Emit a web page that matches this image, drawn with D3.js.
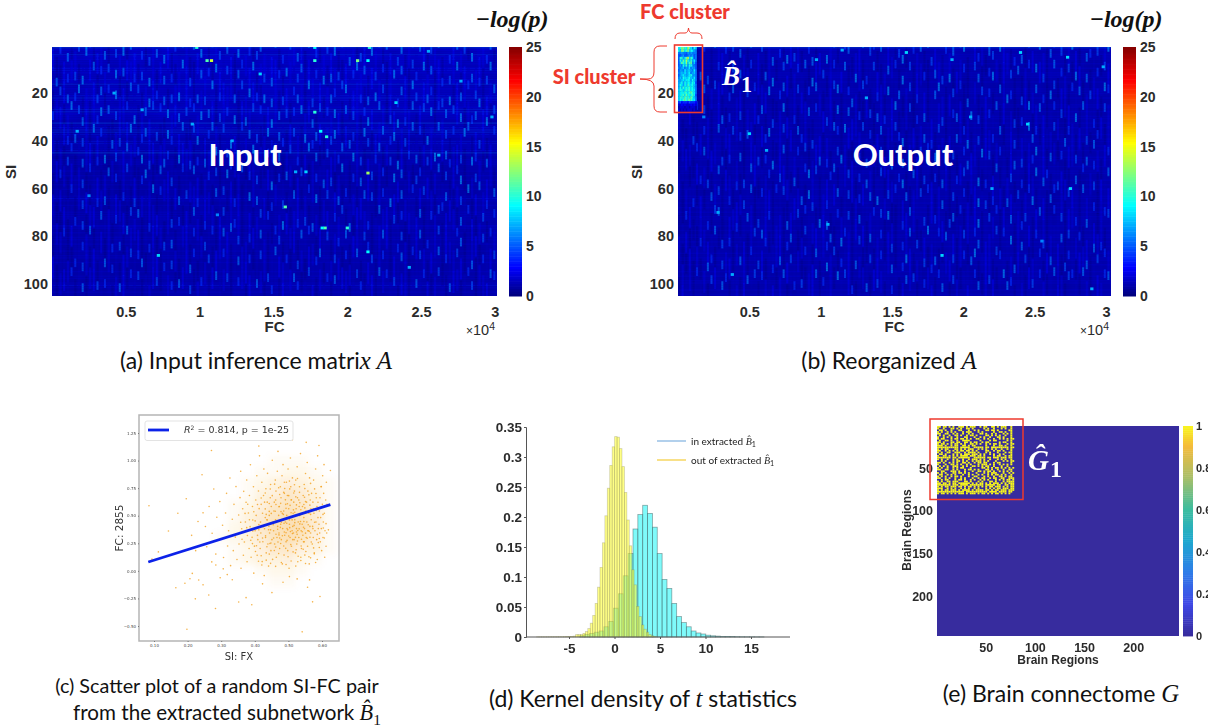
<!DOCTYPE html>
<html><head><meta charset="utf-8">
<script src="https://cdn.jsdelivr.net/npm/d3@7/dist/d3.min.js"></script>
<style>html,body{margin:0;padding:0;background:#fff;overflow:hidden}svg{display:block}</style>
</head><body><div id="c"></div>
<script>
// ---------- data ----------
const coarseInput = [
"3324232433423342432334243342342334233243",
"2332323423342334233424324234323423342332",
"2323232332323433233332432333423323323332",
"2223232323233232323333233233323233232323",
"2323322232323233223232323233232323323233",
"3323232323332323223323223233322323233232",
"1222212222222322212322223222232222322232",
"1212221221222122222122222221222212222222",
"1122122212122122212212212222122122121222",
"1212112212212212122112212122221221221222",
"1121212122121221212212122121212212212122",
"1212211212212122112221212212212122122122",
"1122121221122212212122121222122121222122",
"1212121212212221222122212122212221212222",
"1121212212122122212212221221222122122122",
"1212122121221212221221212222122121222122",
"1122121212212122212221212122212212221212",
"1212212122122122121222122212221212212222",
"1121212212212212221222122121222122122122",
"1212122121221221222122212212212221221212"];
const coarseOutput = [
"2222322223222232222232222322223222232223",
"2122221222322212222212223222122222322212",
"2212222122221232212222122212222122221222",
"1222212222122212222122222122212222122222",
"2212222212221222212221222212222122212222",
"2122212222122222122221222122221222212222",
"1222222122212222212221222212222122212222",
"2212212222122212222122222122212222122212",
"1222221222212222122212221222221222122222",
"2122212222221222122221222122212222212222",
"1222122212222122222122212222122212222122",
"2212222122212222122222122212222122212222",
"1222212221222221222212221222212222122212",
"2122222122212222122212222122221222122222",
"1222122222122212222122222122212221222212",
"2212221222212222212221222212222122221222",
"1222212222122212222122212222212222122212",
"2122222122212222122222122212222122212222",
"1222122212222122212222122221222122212222",
"2212221222122222122212222122212222212222"];
// short vertical streaks: twelve stacked bands of SI, one digit per narrow FC column
const streakBandsInput = [
"304160251740326015270631405261730415206371042516307124056213704152630714025370416205317240631570241630527014362507132460",
"160342507136042517063240517203614027350162407315206413702516340721560324170625031472603514027163054172603415270316240571",
"025361470213560417230615027341605271340625170432160527340716205314620751302641570324061725031462075136402517036241570326",
"413027156302471605324170263514072361504271630524170362514037261504172360514273061520473162053714260351704261537024613705",
"201340615207341062513720463150274136025713462051730426150273164035207146302571036421750326147025361407216350412760352014",
"132054016230417025136204715302641073250416237015426103752041360251403726015324610725031460251730416025371064235017420631",
"014203125041302614025130472016235104126302415017302614250137041620351024163502710426135024017361205413026150347012561320",
"203114025301426013241050213704120361502413206150243017261304215016302417025136041203615024173062140351201463025170312416",
"120301415023161204130526014231025140316204120351642013025140127302415062013142507031240162305140213601425031206143025014",
"012403114260130241506213014302516012304125140263015024316201450123061420315024160321540126301452013604125032146012305142",
"301120415203016241032514601230415201364012503142016234015201632401520314601253042160135024103162041520316041253016024135",
"102314016023514102630415012350124063150241036125014203162054103126401530214061320154013062415032016143025106320145012364"];
const streakBandsOutput = [
"306150241072340516207135026140735201460317250146023715406132057014260753104261570134206517320416053172064150273016415027",
"140230615014320516024130627015302416073150241360172041530261407150324016251703240156014720315060241735016042507316024153",
"013240160253014623051402370146012530416201357014620530142073160250413016720351406120534016274015302614075132041602513074",
"201304152013604125021346015027314012604135207016324015062413701250416031250146302715024160312504170263014250317062140352",
"120150342016023514062013470125031642051302164073012514036021547013026140520316247015032416013502176403125016420315064102",
"013204160321504126013250417036012415023614015720314061205316047120351406213050146320715024103615024713062140325106142034",
"201013425016032140516301240153206014725013460125304162015032147016205134062014350217041360125014032716401532016041250316",
"102140301625014032516014230415013260751024136015024316071250413602151430261050142037150412063150247013064120531062140213",
"014301214056013240162051340120631504120736014215036102415072014362015014230561402137015240316024510362014150324016130245",
"203010423160514021302516401230461025103124601742015306124035014261503721406130250146032150417026130415021360512403162401",
"120302016401523016204153014260351204136017250413062015034126014730215046012350241670132054102631502140361205410326015142",
"031204120531640120361504213026014150236041207153401260352014103625014230461052013146025301764012035142016320541062013246"];
const streakStagger = "593170628401736295840172639051847260391758402613975084162739058413726095183746029517384602175938406217350948216307594812";
const rowLevelsInput = "5324332213332233423223432234432215234432133223521222112121212121123212112222113212122121121221211121221232121";
const rowLevelsOutput = "5212221212122212112221211221212212121121221212112211212211212121122121212122112121221212112122121121212211212";
const gridCluster = [
"9adcb9eb96a8",
"a8dc9bd8a976",
"667665767666",
"556755676756",
"5ab79cf8b956",
"5a8c9ea8b796",
"58ca9d8bc685",
"576a8b7aa765",
"667867796775",
"577697887696",
"678797896786",
"57898789a776",
"687a989a8796",
"778989a97a86",
"78a7a8a98a95",
"7a97a8b99a86",
"7a8b9aab9a86",
"8aa89bab9a96",
"89a9ba9bca96",
"89ab9ca9ab95",
"8ab9cab9ca86",
"8a9bcabcb996",
"453444354443",
"223232223232",
"122212212221",
"212121222121"];
const spotsInput = [[1.08,6.4,14],[1.05,6.4,11],[1.78,6.4,10],[2.07,6.4,12],[2.14,6.4,9],[0.98,0.9,10],[1.78,0.9,9],[2.15,0.9,10],[1.78,28,10],[1.86,38.3,10],[1.82,36,9],[2.14,53.5,13],[1.58,67.7,11],[1.85,76.5,11],[1.83,76.5,9],[2,76.5,10],[2.14,86.5,9],[1.65,53,7],[1.72,53,8],[2.55,2.5,7],[0.17,36,7],[0.72,88,8],[1.22,40,7],[2.77,15,7],[2.98,30,7],[0.42,20,7],[0.61,27,7],[0.95,33,7],[1.41,12,8],[2.33,24,8],[2.62,46,7],[0.25,63,6],[1.12,71,6],[2.42,93,7]];
const spotsOutput = [[0.97,6,7],[1.15,2,7],[1.6,3,8],[1.92,6,7],[2.4,3,8],[2.73,5,8],[2.98,9,7],[0.5,37,8],[0.62,44,7],[1.32,22,7],[2.2,60,7],[2.75,60,8],[1.05,75,7],[0.38,96,7],[1.85,88,8],[2.9,102,7],[2.45,33,8],[0.28,70,7],[0.18,30,6],[1.7,48,6],[2.05,30,7],[2.55,82,6]];
const xTicksHeat = [0.5,1,1.5,2,2.5,3], yTicksHeat = [20,40,60,80,100], barTicks = [0,5,10,15,20,25];
const jetDomain = [0,2.75,9,15.25,21.5,25], jetColors = ["#00007f","#0000ff","#00ffff","#ffff00","#ff0000","#7f0000"];
const scatterPairs = [
85,590,198,-530,541,-553,283,-342,553,1165,412,1131,591,1136,271,1092,512,1189,625,910,243,872,192,-112,165,-153,113,172,94,106,143,361,171,523,196,654,207,-71,214,-23,223,-254,233,-83,246,-127,263,-219,
272,81,284,53,297,-62,306,18,318,-34,333,-81,352,-283,374,-243,391,-307,423,-118,451,-197,484,-103,503,-52,526,-73,557,-148,572,-281,594,-233,563,-82,
212,322,224,183,231,447,246,526,253,402,257,218,264,583,273,341,278,742,284,152,287,486,293,277,296,628,304,413,307,121,313,524,316,703,319,226,322,364,326,842,328,47,333,468,336,183,338,603,342,306,344,764,347,103,352,507,353,243,356,664,358,903,359,23,361,382,364,563,366,141,367,721,369,262,372,443,374,622,376,824,377,83,378,321,381,524,383,203,384,683,386,401,387,962,389,124,392,304,393,583,394,461,396,763,397,-21,399,224,
401,363,403,642,404,503,406,863,407,142,409,283,411,724,412,421,413,564,414,1043,416,203,417,442,418,343,419,603,421,803,422,84,423,523,424,264,426,683,427,923,428,-43,429,382,431,562,432,303,433,744,434,163,436,463,437,623,438,884,439,243,441,43,442,404,443,503,444,343,446,663,447,783,448,183,449,583,451,283,452,1003,453,104,454,443,
456,363,457,543,458,623,459,243,461,823,462,463,463,723,464,123,466,303,467,903,468,403,469,1083,471,503,472,343,473,583,474,203,476,763,477,423,478,663,479,283,481,863,482,63,483,383,484,963,485,463,486,543,487,143,488,703,
489,323,491,443,492,603,493,263,494,803,495,503,496,383,497,683,498,183,499,923,501,563,502,23,503,423,504,743,505,303,506,1023,507,483,508,643,509,223,511,363,512,843,
513,403,514,523,515,343,516,623,517,283,518,723,519,463,521,163,522,823,523,563,524,383,525,243,526,943,527,663,528,83,529,443,531,303,532,583,533,763,534,503,536,1063,537,123,538,363,539,203,
541,423,542,583,543,323,544,683,545,263,546,483,547,783,548,383,549,143,551,883,552,543,553,303,554,623,555,443,556,983,557,223,558,723,559,363,561,523,562,63,563,843,564,403,565,643,
566,343,567,563,568,463,569,703,571,243,572,403,573,623,574,303,575,823,576,523,577,163,578,743,579,363,581,923,582,443,583,663,584,283,585,583,586,103,587,1043,588,483,589,383,
591,423,592,543,593,343,594,663,595,263,596,483,597,763,598,383,599,183,601,603,602,863,603,303,604,443,605,703,606,963,607,523,608,123,609,363,611,643,612,223,613,803,614,343,615,603,
517,412,528,366,536,448,498,372,511,462,476,394,487,431,524,352,533,502,545,396,558,364,469,452,455,418,482,521,503,462,515,553,497,608,472,581,509,644,524,598,
463,332,474,298,488,352,501,316,513,283,526,331,539,287,551,342,564,305,441,373,432,317,448,252,462,216,477,248,492,204,507,238,523,192,538,226,552,176,568,262,
425,401,437,461,408,322,394,362,415,262,443,539,429,623,462,643,486,712,501,682,516,706,531,643,546,602,561,689,574,563,588,622,603,512,612,428,619,372,607,298,592,212,577,154,
443,611,452,682,471,754,488,803,507,762,527,838,549,746,566,793,582,701,598,764,
468,377,479,441,485,512,493,346,504,392,519,437,532,381,546,447,559,418,472,326,496,276,512,338,527,271,541,354,556,296,573,383,586,331,461,541,477,612,493,568,508,527,522,671,537,554,551,628,566,512,583,547,
438,427,447,372,456,298,469,262,482,318,495,431,506,356,521,304,534,426,547,263,562,358,578,441,592,293,604,388,431,483,449,521,463,602,478,537,491,644,505,594,519,531,534,618,549,571,564,596,
401,453,412,372,423,298,434,512,445,248,458,184,471,158,486,226,499,128,514,172,529,133,544,196,561,128,575,208,589,256,397,536,408,602,419,661,431,706,446,742,459,786,474,692,489,747,503,814,518,781,533,712,548,668,
436,218,419,137,443,152,405,228,388,278,376,392,371,521,379,604,362,287,358,441,384,463,393,247,402,176,411,87,421,53,434,97,447,68,462,41,479,76,493,58,508,89,522,43,537,94,551,67,566,118,581,76];
const scatterLineSI = [0.083,0.625], scatterLineFC = [0.08,0.60];
const scatterXTicks = [0.1,0.2,0.3,0.4,0.5,0.6], scatterYTicks = [-0.5,-0.25,0,0.25,0.5,0.75,1,1.25];
const densitySI = [.30,.34,.38,.42,.46,.50,.54,.58,.62];
const densityFC = [1,.9,.8,.7,.6,.5,.4,.3,.2,.1,0,-.1];
const densityRows = ["000011100","000112210","001234321","001346531","012467641","013578751","023688851","123578741","012466431","012334210","000122100","000011000"];
const histInStart = -3.83, histInWidth = 0.533;
const histIn = [.002,.004,.006,.008,.01,.017,.026,.048,.072,.102,.139,.18,.204,.2195,.206,.183,.139,.096,.081,.056,.034,.024,.017,.01,.0067,.005,.003,.002,.0015,.001,.001,.0007,.0005,.0004,.0003,.0003,.0002,.0002];
const histOutStart = -8.56, histOutWidth = 0.268;
const histOut = [.0003,.0003,.0003,.0003,.0003,.0004,.0004,.0004,.0005,.0005,.0005,.0006,.0007,.0008,.001,.0015,.004,.004,.004,.006,.009,.014,.023,.036,.056,.083,.116,.157,.202,.248,.286,.317,.334,.333,.314,.284,.241,.195,.152,.112,.087,.051,.034,.02,.013,.008,.004,.002,.001];
const histXTicks = [-5,0,5,10,15], histYTicks = [0,.05,.1,.15,.2,.25,.3,.35];
const histYLabels = ["0","0.05","0.1","0.15","0.2","0.25","0.3","0.35"];
const connectome = [
"##.##.#.#..###.#.###..#.##..##.#.###..#.",
"#..#...##.#.#..##.#.....#.#..#...#.#..#.",
".##.#..#...##...#..#.#...##.##.#.....##.",
"#.#..#.#.#...#.###...#.#.....#..##.#..#.",
"##..##..#.#..#..#.#...##.#..#.#...#.#.#.",
".#.#..#..##.#..#.##.#....##.#.#.#..#..#.",
"#..#.#.#..#...##...#..#.#..#...##.#...#.",
"#.##...#.##.##.#.#..##..#.#..#..#.#.#.##",
".#..##.#..#..####.....#....#.##.....#.#.",
"##.#...##.##..##.#.##..#.##.....#.##..#.",
"#.##.#.#.##.#.#..##.#.#..#.#.##.#...#.##",
"###.#..#.##..##.#.##.....#...#..##.#..#.",
"###########.#####..#####.##.#########.##",
"#.#.##...##.#.#.###..#.#.#..#.#..#..#.#.",
"##..#.#.#.#.##.##.#.#....##..#.##.#...#.",
"#.#..##..###..#.####.#...#.#...#...#.##.",
".##.#...#.#.#.###.###.#.#..#.#..#.#...#.",
"#..##.#.#.#.####.###.##.#....#.##..#.##.",
"#######.##.######..######.##.###.###.##.",
"#.#..#..#.#..#..#.###.#.#..#...#.#.#..#.",
"..#.#...#.##.#.#..#.###.#.#...#...#.#.##",
"##.#..#.#.#..##.#..#.##.##...#.##.....#.",
"#...#..##.#.#..#.#...#.###.#.#..#.#.#.#.",
".#.#.#..###..#.#..##.#.#.##..#...#..#...",
"#.#..#..#.#.##...#.....##.#.#.##.#.#.#.#",
"##..##..#.#...#.##.#.#...##.#..#..#..##.",
"..##...###.#..#...#..##.#.##.#..#.#.#.#.",
"#.#.#...##.##.#.#...#...#.#.###...#..#.#",
".##..#.#.#...#..#.#..#.#..#.#.##.#.#..#.",
"#.#.#..#.##.#...#..##...#.#..#..##.#.##.",
"##..#.#..#..#.#...#..#.##..#.##..##..###",
"..#.##...#.##.#..#.#..#.#.#...#.#.#.##.#",
"#.#..##.###...##.#...#.#...##.#...#.####",
"##.##.#.##.######.#.#.##.#.#.###.#.#.###",
"#######.###.####.#######.#####.##..##.##",
"#.#.##.###.##.#.##.#.#.#.#.##.###.#.#.##",
"###..#.#.#..#.#.#..#.#...#.#.#.##.###.##",
"#.#.##.###.#.####.#.####.##.#.##.###.###",
"##############.###########.####.####.##.",
"#.##.#.#.#.###.#.###.#.##.#.#.##.#.#.#.."];
const connectomeTicks = [50,100,150,200], connectomeBarTicks = [0,.2,.4,.6,.8,1];
const parulaStops = [0,.15,.3,.45,.6,.75,.9,1], parulaColors = ["#372c9e","#3f48e6","#2f7de8","#1ea8cf","#3dbd9e","#a8bf6a","#f4bb3c","#f9f81c"];

// ---------- page ----------
const W = 1208, H = 727;
const svg = d3.select("#c").append("svg").attr("width",W).attr("height",H);
const defs = svg.append("defs");
const blur=(id,s)=>defs.append("filter").attr("id",id).attr("x","-10%").attr("y","-10%").attr("width","120%").attr("height","120%").append("feGaussianBlur").attr("stdDeviation",s);
blur("soft",0.55); blur("soft2",0.4); blur("haze",5); blur("haze2",3);
const sans = "'Liberation Sans',Arial,sans-serif", cal = "Lato,'Open Sans',sans-serif", serif = "'Liberation Serif',serif";
const RED = "#ee3a2e", INK = "#2b2b2b";
const jet = d3.scaleLinear().domain(jetDomain).range(jetColors).clamp(true);
const parula = d3.scaleLinear().domain(parulaStops).range(parulaColors);

function boldTick(sel,size=14.5){sel.selectAll("text").attr("font-family",sans).attr("font-weight","bold").attr("font-size",size).attr("fill",INK);}

function heatPanel(o){
  const x = d3.scaleLinear().domain([0,o.fcMax]).range([o.left,o.right]);
  const y = d3.scaleLinear().domain([0.7,105]).range([47,296]);
  const id = "clip"+o.left;
  defs.append("clipPath").attr("id",id).append("rect").attr("x",o.left).attr("y",47).attr("width",o.right-o.left).attr("height",249);
  const clipG = svg.append("g").attr("clip-path",`url(#${id})`);
  const g0 = clipG.append("g").attr("filter","url(#haze)");
  g0.append("rect").attr("x",o.left-10).attr("y",37).attr("width",o.right-o.left+20).attr("height",270).attr("fill",jet(1));
  const rows = d3.scaleBand().domain(d3.range(o.coarse.length)).range([47,296]);
  const cols = d3.scaleBand().domain(d3.range(o.coarse[0].length)).range([o.left,o.right]);
  o.coarse.forEach((s,r)=>{
    g0.selectAll(null).data(s.split("")).join("rect")
      .attr("x",(d,i)=>cols(i)).attr("y",rows(r)).attr("width",cols.bandwidth()+.5).attr("height",rows.bandwidth()+.5)
      .attr("fill",d=>jet(+d*0.3+0.35));
  });
  const g = clipG.append("g").attr("filter","url(#soft)");
  const bands = d3.scaleBand().domain(d3.range(-1,o.bands.length)).range([47-249/o.bands.length,296]);
  o.bands.forEach((s,b)=>{
    const sc = d3.scaleBand().domain(d3.range(s.length)).range([o.left,o.right]);
    // low levels run the whole band, high levels are short bright dashes
    g.selectAll(null).data(s.split("")).join("rect")
      .attr("x",(d,i)=>sc(i)).attr("width",d=>+d>2?2:sc.bandwidth()*.6)
      .attr("y",(d,i)=>bands(b)+(+streakStagger[i%streakStagger.length]-4)*2)
      .attr("height",d=>+d>3?bands.bandwidth()*.42:bands.bandwidth()+1)
      .attr("fill",d=>jet(+d*1.0+.1)).attr("opacity",d=>+d>3?.62:.42);
  });
  const rr = d3.scaleBand().domain(d3.range(o.rowLevels.length)).range([47,296]);
  g.selectAll(null).data(o.rowLevels.split("")).join("rect").attr("x",o.left).attr("width",o.right-o.left)
    .attr("y",(d,i)=>rr(i)).attr("height",rr.bandwidth()*.65).attr("fill",d=>jet(+d*1.1)).attr("opacity",d=>+d>2?.26:.2);
  g.selectAll(null).data(o.spots).join("rect").attr("x",d=>x(d[0])-1.5).attr("y",d=>y(d[1])-1.4).attr("width",3.2)
    .attr("height",2.8).attr("fill",d=>jet(d[2]));
  if(o.cluster){
    const cc = d3.scaleBand().domain(d3.range(o.cluster[0].length)).range([x(0),x(o.clusterFC)]);
    const cr = d3.scaleBand().domain(d3.range(o.cluster.length)).range([y(0.7),y(o.clusterSI)]);
    o.cluster.forEach((s,r)=>{
      g.selectAll(null).data(s.split("")).join("rect").attr("x",(d,i)=>cc(i)).attr("y",cr(r))
        .attr("width",cc.bandwidth()+.3).attr("height",cr.bandwidth()+.3).attr("fill",d=>jet(parseInt(d,36)*.95));
    });
  }
  const ax = svg.append("g").attr("transform","translate(0,296)").call(d3.axisBottom(x).tickValues(xTicksHeat).tickFormat(d=>d).tickSize(0).tickPadding(11));
  ax.select(".domain").remove(); boldTick(ax);
  const ay = svg.append("g").attr("transform",`translate(${o.left},0)`).call(d3.axisLeft(y).tickValues(yTicksHeat).tickSize(0).tickPadding(4));
  ay.select(".domain").remove(); boldTick(ay);
  svg.append("text").attr("transform",`translate(${o.left-36},172) rotate(-90)`).attr("text-anchor","middle").attr("font-family",sans).attr("font-weight","bold").attr("font-size",15).attr("fill",INK).text("SI");
  svg.append("text").attr("x",(o.left+o.right)/2).attr("y",332).attr("text-anchor","middle").attr("font-family",sans).attr("font-weight","bold").attr("font-size",15).attr("fill",INK).text("FC");
  const e = svg.append("text").attr("x",o.right-31).attr("y",335).attr("font-family",sans).attr("font-size",14.5).attr("fill",INK);
  e.append("tspan").attr("font-size",12).text("×");e.append("tspan").text("10");e.append("tspan").attr("dy",-5).attr("font-size",10.5).text("4");
  const by = d3.scaleLinear().domain([0,25]).range([296,47]);
  svg.append("g").selectAll("rect").data(d3.range(0,25,0.25)).join("rect").attr("x",o.right+12).attr("width",13)
    .attr("y",d=>by(d+.25)).attr("height",by(0)-by(.3)).attr("fill",d=>jet(d));
  const bax = svg.append("g").attr("transform",`translate(${o.right+25},0)`).call(d3.axisRight(by).tickValues(barTicks).tickSize(0).tickPadding(4));
  bax.select(".domain").remove(); boldTick(bax,14);
  svg.append("text").attr("x",o.right+15).attr("y",27).attr("text-anchor","middle").attr("font-family",serif).attr("font-weight","bold").attr("font-style","italic").attr("font-size",24).attr("fill","#111").text("−log(p)");
  svg.append("text").attr("x",o.labelX).attr("y",166).attr("text-anchor","middle").attr("font-family",cal).attr("font-weight","bold").attr("font-size",31).attr("fill","#fff").text(o.label);
}
heatPanel({left:52,right:497,fcMax:3.015,coarse:coarseInput,bands:streakBandsInput,rowLevels:rowLevelsInput,spots:spotsInput,label:"Input",labelX:245});
heatPanel({left:678,right:1111,fcMax:3.035,coarse:coarseOutput,bands:streakBandsOutput,rowLevels:rowLevelsOutput,spots:spotsOutput,label:"Output",labelX:903,cluster:gridCluster,clusterFC:0.13,clusterSI:27.5});

svg.append("rect").attr("x",674.5).attr("y",45).attr("width",28).attr("height",67.5).attr("fill","none").attr("stroke",RED).attr("stroke-width",1.6);
svg.append("path").attr("fill","none").attr("stroke",RED).attr("stroke-width",1).attr("d","M675,39 Q675,33 680,33 L685,33 Q688,33 688.5,28 Q689,33 692,33 L697,33 Q702,33 702,39");
svg.append("path").attr("fill","none").attr("stroke",RED).attr("stroke-width",1).attr("d","M667,46 L660,46 Q654,46 654,52 L654,72 Q654,79 648,79 L640,79 Q654,79 654,86 L654,106 Q654,112 660,112 L667,112");
const redT=(t,x,y)=>svg.append("text").attr("x",x).attr("y",y).attr("text-anchor","middle").attr("font-family",cal).attr("font-weight","900").attr("font-size",20).attr("fill",RED).text(t);
redT("FC cluster",685,19); redT("SI cluster",594,84);
function hatLabel(x,y,letter,size,fill){
  const t = svg.append("text").attr("x",x).attr("y",y).attr("font-family",serif).attr("font-weight","bold").attr("font-style","italic").attr("font-size",size).attr("fill",fill);
  t.append("tspan").text(letter+"\u0302");
  t.append("tspan").attr("dy",size*.25).attr("font-style","normal").attr("font-size",size*.82).attr("dx",1).text("1");
}
hatLabel(722,85,"B",27,"#fff");

function caption(parts,x,y,anchor="middle",size=23){
  const t = svg.append("text").attr("x",x).attr("y",y).attr("text-anchor",anchor).attr("font-family",cal).attr("font-size",size).attr("fill","#111");
  parts.forEach(p=>{const s=t.append("tspan").text(p[0]); if(p[1]==="m") s.attr("font-family",serif).attr("font-style","italic").attr("font-size",size*1.08); if(p[1]==="s") s.attr("font-family",serif).attr("font-size",size*.75).attr("dy",5);});
}
caption([["(a) Input inference matri"],["x","m"],[" "],["A","m"]],256,369);
caption([["(b) Reorganized "],["A","m"]],889,369);
caption([["(c) Scatter plot of a random SI-FC pair"]],217,693,"middle",19.8);
caption([["from the extracted subnetwork "],["B\u0302","m"],["1","s"]],227,720,"middle",20.6);
caption([["(d) Kernel density of "],["t","m"],[" statistics"]],643,707);
caption([["(e) Brain connectome "],["G","m"]],1061,702);

// (c) scatter
{
  const x = d3.scaleLinear().domain([0.1,0.6]).range([154,322]);
  const y = d3.scaleLinear().domain([-0.5,1.25]).range([626,433]);
  const pts = d3.range(0,scatterPairs.length,2).map(i=>[scatterPairs[i]/1000,scatterPairs[i+1]/1000]);
  svg.append("rect").attr("x",139).attr("y",415).attr("width",200).attr("height",226).attr("fill","#fff").attr("stroke","#b5b5b5").attr("stroke-width",1.5);
  const hz = svg.append("g").attr("filter","url(#haze2)");
  densityRows.forEach((s,r)=>{
    hz.selectAll(null).data(s.split("")).join("rect")
      .attr("x",(d,i)=>x(densitySI[i]-.02)).attr("width",x(.04)-x(0))
      .attr("y",y(densityFC[r]+.05)).attr("height",y(0)-y(.1)).attr("fill","#f2a01e").attr("opacity",d=>+d*.04);
  });
  svg.append("g").attr("filter","url(#soft2)").selectAll("circle").data(pts).join("circle").attr("cx",d=>x(d[0])).attr("cy",d=>y(d[1])).attr("r",.8).attr("fill","#f2a01e").attr("opacity",.8);
  const line = d3.line().x(d=>x(d[0])).y(d=>y(d[1]));
  svg.append("path").attr("d",line(scatterLineSI.map((s,i)=>[s,scatterLineFC[i]]))).attr("stroke","#0c22e8").attr("stroke-width",2.8).attr("fill","none");
  const ax = svg.append("g").attr("transform","translate(0,641)").call(d3.axisBottom(x).tickValues(scatterXTicks).tickSize(1).tickPadding(2));
  ax.select(".domain").remove(); ax.selectAll("text").attr("font-size",4).attr("font-family","'DejaVu Sans'").attr("fill","#444"); ax.selectAll("line").attr("stroke","#777");
  const ay = svg.append("g").attr("transform","translate(139,0)").call(d3.axisLeft(y).tickValues(scatterYTicks).tickFormat(d3.format(".2f")).tickSize(1).tickPadding(2));
  ay.select(".domain").remove(); ay.selectAll("text").attr("font-size",4).attr("font-family","'DejaVu Sans'").attr("fill","#444"); ay.selectAll("line").attr("stroke","#777");
  svg.append("text").attr("transform","translate(123,528) rotate(-90)").attr("text-anchor","middle").attr("font-family","'DejaVu Sans'").attr("font-size",10.5).attr("fill","#333").text("FC: 2855");
  svg.append("text").attr("x",239).attr("y",660).attr("text-anchor","middle").attr("font-family","'DejaVu Sans'").attr("font-size",10).attr("fill","#333").text("SI: FX");
  svg.append("rect").attr("x",145).attr("y",421).attr("width",148).attr("height",19.5).attr("rx",2).attr("fill","#fff").attr("stroke","#e3e3e3");
  svg.append("line").attr("x1",148).attr("x2",169).attr("y1",430).attr("y2",430).attr("stroke","#0c22e8").attr("stroke-width",2.8);
  const t = svg.append("text").attr("x",184).attr("y",433).attr("font-family","'DejaVu Sans'").attr("font-size",9.5).attr("fill","#333");
  t.append("tspan").attr("font-style","italic").text("R");t.append("tspan").attr("dy",-3).attr("font-size",6).text("2");t.append("tspan").attr("dy",3).text(" = 0.814, p = 1e-25");
}

// (d) histograms
{
  const x = d3.scaleLinear().domain([-5,15]).range([569,751]);
  const y = d3.scaleLinear().domain([0,.35]).range([637,427]);
  const bars=(vals,start,w,fill,fo,stroke,so)=>svg.append("g").selectAll("rect").data(vals).join("rect")
    .attr("x",(d,i)=>x(start+i*w)).attr("width",x(w)-x(0)).attr("y",d=>y(d)).attr("height",d=>y(0)-y(d))
    .attr("fill",fill).attr("fill-opacity",fo).attr("stroke",stroke).attr("stroke-opacity",so).attr("stroke-width",.8);
  bars(histIn,histInStart,histInWidth,"#00f5f5",.5,"#4d6b6b",.6);
  bars(histOut,histOutStart,histOutWidth,"#ffff2e",.58,"#777752",.32);
  const ax = svg.append("g").attr("transform","translate(0,637)").call(d3.axisBottom(x).tickValues(histXTicks).tickFormat(d=>String(d)).tickSize(2).tickPadding(4));
  ax.select(".domain").attr("d","M526,0H790").attr("stroke","#555"); boldTick(ax,13.5); ax.selectAll("line").attr("stroke","#555");
  const ay = svg.append("g").attr("transform","translate(526,0)").call(d3.axisLeft(y).tickValues(histYTicks).tickFormat((d,i)=>histYLabels[i]).tickSize(2).tickPadding(2));
  ay.select(".domain").attr("stroke","#555"); boldTick(ay,13.5); ay.selectAll("line").attr("stroke","#555");
  [["in extracted ",441,"#9fc4e8"],["out of extracted ",460,"#f6d86a"]].forEach(([s,yy,c])=>{
    svg.append("line").attr("x1",657).attr("x2",686).attr("y1",yy).attr("y2",yy).attr("stroke",c).attr("stroke-width",1.6);
    const t = svg.append("text").attr("x",691).attr("y",yy+3.5).attr("font-family",cal).attr("font-size",10).attr("fill","#222");
    t.append("tspan").text(s); t.append("tspan").attr("font-family",serif).attr("font-style","italic").text("B\u0302");
    t.append("tspan").attr("font-size",7).attr("dy",2).text("1");
  });
}

// (e) connectome
{
  const x = d3.scaleLinear().domain([0.5,246.5]).range([937,1179]);
  const y = d3.scaleLinear().domain([0.5,246.5]).range([426,636]);
  svg.append("rect").attr("x",937).attr("y",426).attr("width",242).attr("height",210).attr("fill",parula(0));
  const n = connectome.length;
  const c = d3.scaleBand().domain(d3.range(n)).range([x(0.5),x(79)]);
  const r = d3.scaleBand().domain(d3.range(n)).range([y(0.5),y(80.5)]);
  const g = svg.append("g").attr("filter","url(#soft2)");
  connectome.forEach((s,i)=>{
    g.selectAll(null).data(s.split("").map((d,j)=>[d,j]).filter(d=>d[0]==="#")).join("rect").attr("x",d=>c(d[1])).attr("y",r(i)).attr("width",c.bandwidth()).attr("height",r.bandwidth())
      .attr("fill",parula(1));
  });
  const ax = svg.append("g").attr("transform","translate(0,636)").call(d3.axisBottom(x).tickValues(connectomeTicks).tickSize(0).tickPadding(7));
  ax.select(".domain").remove(); boldTick(ax,12.5);
  const ay = svg.append("g").attr("transform","translate(937,0)").call(d3.axisLeft(y).tickValues(connectomeTicks).tickSize(0).tickPadding(4));
  ay.select(".domain").remove(); boldTick(ay,12.5);
  svg.append("text").attr("x",1058).attr("y",664).attr("text-anchor","middle").attr("font-family",sans).attr("font-weight","bold").attr("font-size",12).attr("fill",INK).text("Brain Regions");
  svg.append("text").attr("transform","translate(911,530) rotate(-90)").attr("text-anchor","middle").attr("font-family",sans).attr("font-weight","bold").attr("font-size",12).attr("fill",INK).text("Brain Regions");
  const by = d3.scaleLinear().domain([0,1]).range([636,426]);
  svg.append("g").selectAll("rect").data(d3.range(0,1,.01)).join("rect").attr("x",1183).attr("width",10).attr("y",d=>by(d+.01)).attr("height",by(0)-by(.012)).attr("fill",d=>parula(d));
  const bax = svg.append("g").attr("transform","translate(1193,0)").call(d3.axisRight(by).tickValues(connectomeBarTicks).tickFormat(d=>d).tickSize(0).tickPadding(3));
  bax.select(".domain").remove(); boldTick(bax,11);
  svg.append("rect").attr("x",930).attr("y",419).attr("width",93).attr("height",80.5).attr("fill","none").attr("stroke",RED).attr("stroke-width",1.5);
  hatLabel(1028,470,"G",29,"#fff");
}
</script></body></html>
